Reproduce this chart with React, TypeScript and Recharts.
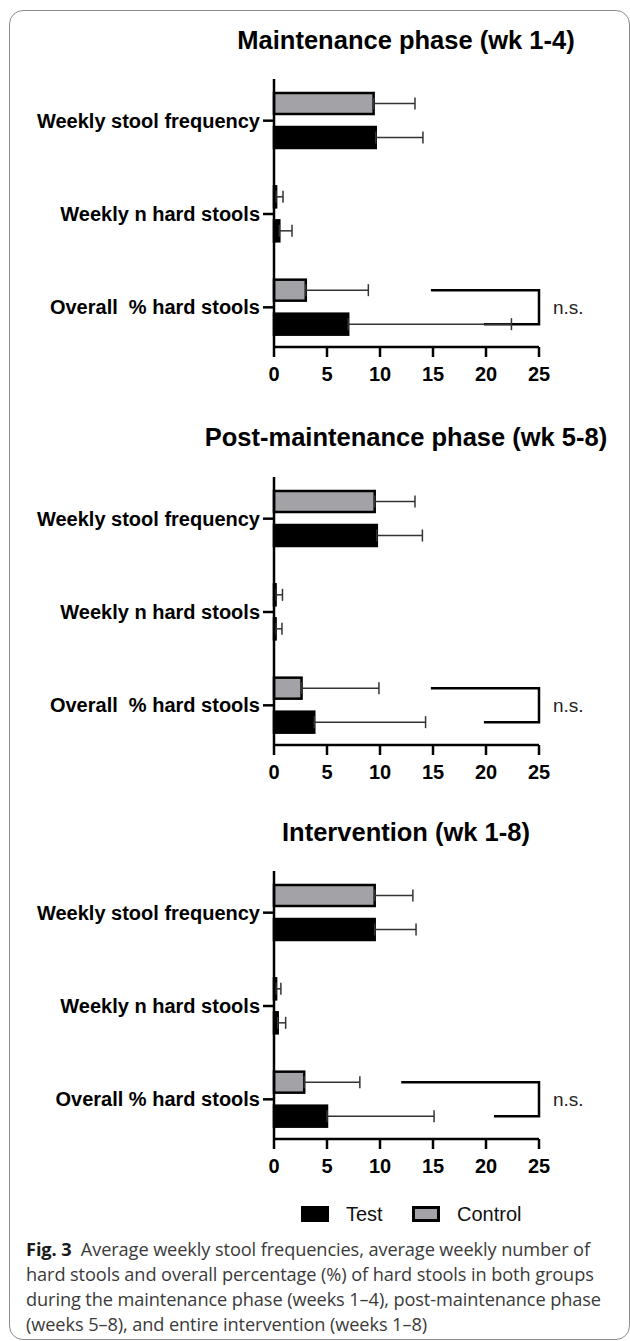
import React from 'react'
import { BarChart, Bar, XAxis, YAxis, ErrorBar } from 'recharts'

// categories (the first two panels have a double space in the last label)
const categoriesPhase = ['Weekly stool frequency', 'Weekly n hard stools', 'Overall  % hard stools']
const categoriesIntervention = ['Weekly stool frequency', 'Weekly n hard stools', 'Overall % hard stools']

// maintenance phase (wk 1-4)
const maintenanceTest = [9.6, 0.5, 7.0]
const maintenanceTestSd = [4.45, 1.2, 15.4]
const maintenanceControl = [9.4, 0.2, 3.0]
const maintenanceControlSd = [3.9, 0.65, 5.9]

// post-maintenance phase (wk 5-8)
const postTest = [9.7, 0.15, 3.8]
const postTestSd = [4.3, 0.6, 10.5]
const postControl = [9.5, 0.15, 2.6]
const postControlSd = [3.8, 0.65, 7.3]

// intervention (wk 1-8)
const interventionTest = [9.5, 0.35, 5.0]
const interventionTestSd = [3.9, 0.75, 10.1]
const interventionControl = [9.5, 0.2, 2.85]
const interventionControlSd = [3.6, 0.45, 5.25]

const xTicks = [0, 5, 10, 15, 20, 25]

// n.s. bracket: where the control arm and the test arm start, both end at 25
const bracketControlStart = [14.8, 14.8, 12.0]
const bracketTestStart = [19.8, 19.8, 20.75]
const bracketEnd = 25
const bracketIndex = 2

const FONT = '"Liberation Sans", Arial, Helvetica, sans-serif'
const CONTROL_GREY = '#a3a3a7'
const BAR_SIZE = 21
const BAR_GAP = 13
const BAR_STROKE = 2.5
const AXIS_STROKE = 2.5
const PLOT_H = 268
const MARGIN_TOP = 10
const X_AXIS_H = 50
const Y_AXIS_W = 274

type PanelProps = {
  title: string
  titleY: number
  plotTop: number
  categories: string[]
  test: number[]
  testSd: number[]
  control: number[]
  controlSd: number[]
  bracket: [number, number]
}

function CategoryTick(props: any) {
  const { x, y, payload } = props
  return (
    <text
      x={x}
      y={y}
      dy="0.355em"
      textAnchor="end"
      fill="#000"
      fontSize={20}
      fontWeight="bold"
      fontFamily={FONT}
      style={{ whiteSpace: 'pre' }}
    >
      {payload.value}
    </text>
  )
}

function makeShape(kind: 'control' | 'test', bracket: [number, number]) {
  return (props: any) => {
    const { x, y, width, height, payload, index } = props
    const fill = kind === 'control' ? CONTROL_GREY : '#000'
    const rect = (
      <rect x={x} y={y} width={width} height={height} fill={fill} stroke="#000" strokeWidth={BAR_STROKE} />
    )
    if (kind === 'control' || index !== bracketIndex) return rect

    // pixels per unit taken from the bar the library drew
    const ppu = width / payload.test
    const cy = y + height / 2
    const topY = cy - (BAR_SIZE + BAR_GAP)
    const xEnd = x + bracketEnd * ppu
    const d = `M${x + bracket[0] * ppu},${topY} H${xEnd} V${cy} H${x + bracket[1] * ppu}`
    return (
      <g>
        {rect}
        <path d={d} fill="none" stroke="#000" strokeWidth={2.5} strokeLinejoin="miter" />
        <text
          x={xEnd + 14}
          y={(cy + topY) / 2}
          dy="0.355em"
          fill="#222"
          fontSize={19}
          fontFamily={FONT}
        >
          n.s.
        </text>
      </g>
    )
  }
}

function Panel({ title, titleY, plotTop, categories, test, testSd, control, controlSd, bracket }: PanelProps) {
  const data = categories.map((name, i) => ({
    name,
    test: test[i],
    control: control[i],
    testErr: [0, testSd[i]],
    controlErr: [0, controlSd[i]],
  }))

  return (
    <>
      <div style={{ ...styles.title, top: titleY - 15 }}>{title}</div>
      <div style={{ position: 'absolute', left: 0, top: plotTop - MARGIN_TOP }}>
        <BarChart
          width={630}
          height={MARGIN_TOP + PLOT_H + X_AXIS_H}
          data={data}
          layout="vertical"
          margin={{ top: MARGIN_TOP, right: 91, bottom: 0, left: 0 }}
          barSize={BAR_SIZE}
          barGap={BAR_GAP}
        >
          <XAxis
            type="number"
            domain={[0, 25]}
            ticks={xTicks}
            interval={0}
            height={X_AXIS_H}
            axisLine={{ stroke: '#000', strokeWidth: AXIS_STROKE }}
            tickLine={{ stroke: '#000', strokeWidth: AXIS_STROKE }}
            tickSize={10}
            tickMargin={10}
            tick={{ fill: '#000', fontSize: 20, fontWeight: 'bold', fontFamily: FONT }}
          />
          <YAxis
            type="category"
            dataKey="name"
            width={Y_AXIS_W}
            padding={{ top: -5, bottom: -7 }}
            axisLine={{ stroke: '#000', strokeWidth: AXIS_STROKE }}
            tickLine={{ stroke: '#000', strokeWidth: AXIS_STROKE }}
            tickSize={11}
            tickMargin={3}
            tick={<CategoryTick />}
            interval={0}
          />
          <Bar dataKey="control" fill={CONTROL_GREY} isAnimationActive={false} shape={makeShape('control', bracket)}>
            <ErrorBar dataKey="controlErr" direction="x" width={6} stroke="#333" strokeWidth={1.5} isAnimationActive={false} />
          </Bar>
          <Bar dataKey="test" fill="#000" isAnimationActive={false} shape={makeShape('test', bracket)}>
            <ErrorBar dataKey="testErr" direction="x" width={6} stroke="#333" strokeWidth={1.5} isAnimationActive={false} />
          </Bar>
        </BarChart>
      </div>
    </>
  )
}

export default function App() {
  return (
    <div style={styles.page}>
      <div style={styles.frame} />
      <Panel
        title="Maintenance phase (wk 1-4)"
        titleY={40}
        plotTop={79}
        categories={categoriesPhase}
        test={maintenanceTest}
        testSd={maintenanceTestSd}
        control={maintenanceControl}
        controlSd={maintenanceControlSd}
        bracket={[bracketControlStart[0], bracketTestStart[0]]}
      />
      <Panel
        title="Post-maintenance phase (wk 5-8)"
        titleY={437}
        plotTop={477}
        categories={categoriesPhase}
        test={postTest}
        testSd={postTestSd}
        control={postControl}
        controlSd={postControlSd}
        bracket={[bracketControlStart[1], bracketTestStart[1]]}
      />
      <Panel
        title="Intervention (wk 1-8)"
        titleY={832}
        plotTop={871}
        categories={categoriesIntervention}
        test={interventionTest}
        testSd={interventionTestSd}
        control={interventionControl}
        controlSd={interventionControlSd}
        bracket={[bracketControlStart[2], bracketTestStart[2]]}
      />

      {/* legend */}
      <div style={{ ...styles.swatch, left: 301, width: 28, background: '#000' }} />
      <div style={{ ...styles.legendText, left: 346 }}>Test</div>
      <div style={{ ...styles.swatch, left: 412, width: 28, background: CONTROL_GREY, border: '3px solid #000' }} />
      <div style={{ ...styles.legendText, left: 457 }}>Control</div>

      {/* caption */}
      <div style={styles.caption}>
        <div>
          <b style={styles.figLabel}>Fig. 3</b>
          {'  Average weekly stool frequencies, average weekly number of'}
        </div>
        <div>hard stools and overall percentage (%) of hard stools in both groups</div>
        <div>during the maintenance phase (weeks 1–4), post-maintenance phase</div>
        <div>(weeks 5–8), and entire intervention (weeks 1–8)</div>
      </div>
    </div>
  )
}

const styles = {
  page: {
    position: 'absolute',
    left: 0,
    top: 0,
    width: 630,
    height: 1341,
    overflow: 'hidden',
    background: '#fff',
  },
  frame: {
    position: 'absolute',
    left: 9,
    top: 10,
    width: 621,
    height: 1330,
    boxSizing: 'border-box',
    border: '1.5px solid #8c8c8c',
    borderRadius: 14,
  },
  title: {
    position: 'absolute',
    left: 156,
    width: 500,
    lineHeight: '30px',
    textAlign: 'center',
    fontFamily: FONT,
    fontWeight: 'bold',
    fontSize: 25.5,
    color: '#000',
  },
  swatch: {
    position: 'absolute',
    top: 1206,
    height: 16,
    boxSizing: 'border-box',
  },
  legendText: {
    position: 'absolute',
    top: 1201,
    lineHeight: '26px',
    fontFamily: FONT,
    fontSize: 20,
    color: '#111',
  },
  caption: {
    position: 'absolute',
    left: 26,
    top: 1237,
    width: 600,
    fontFamily: '"Open Sans", "Noto Sans", sans-serif',
    fontSize: 18.2,
    lineHeight: '25px',
    letterSpacing: -0.1,
    color: '#3a3a3a',
    whiteSpace: 'pre',
  },
  figLabel: {
    color: '#1a1a1a',
    fontWeight: 700,
  },
} as const
